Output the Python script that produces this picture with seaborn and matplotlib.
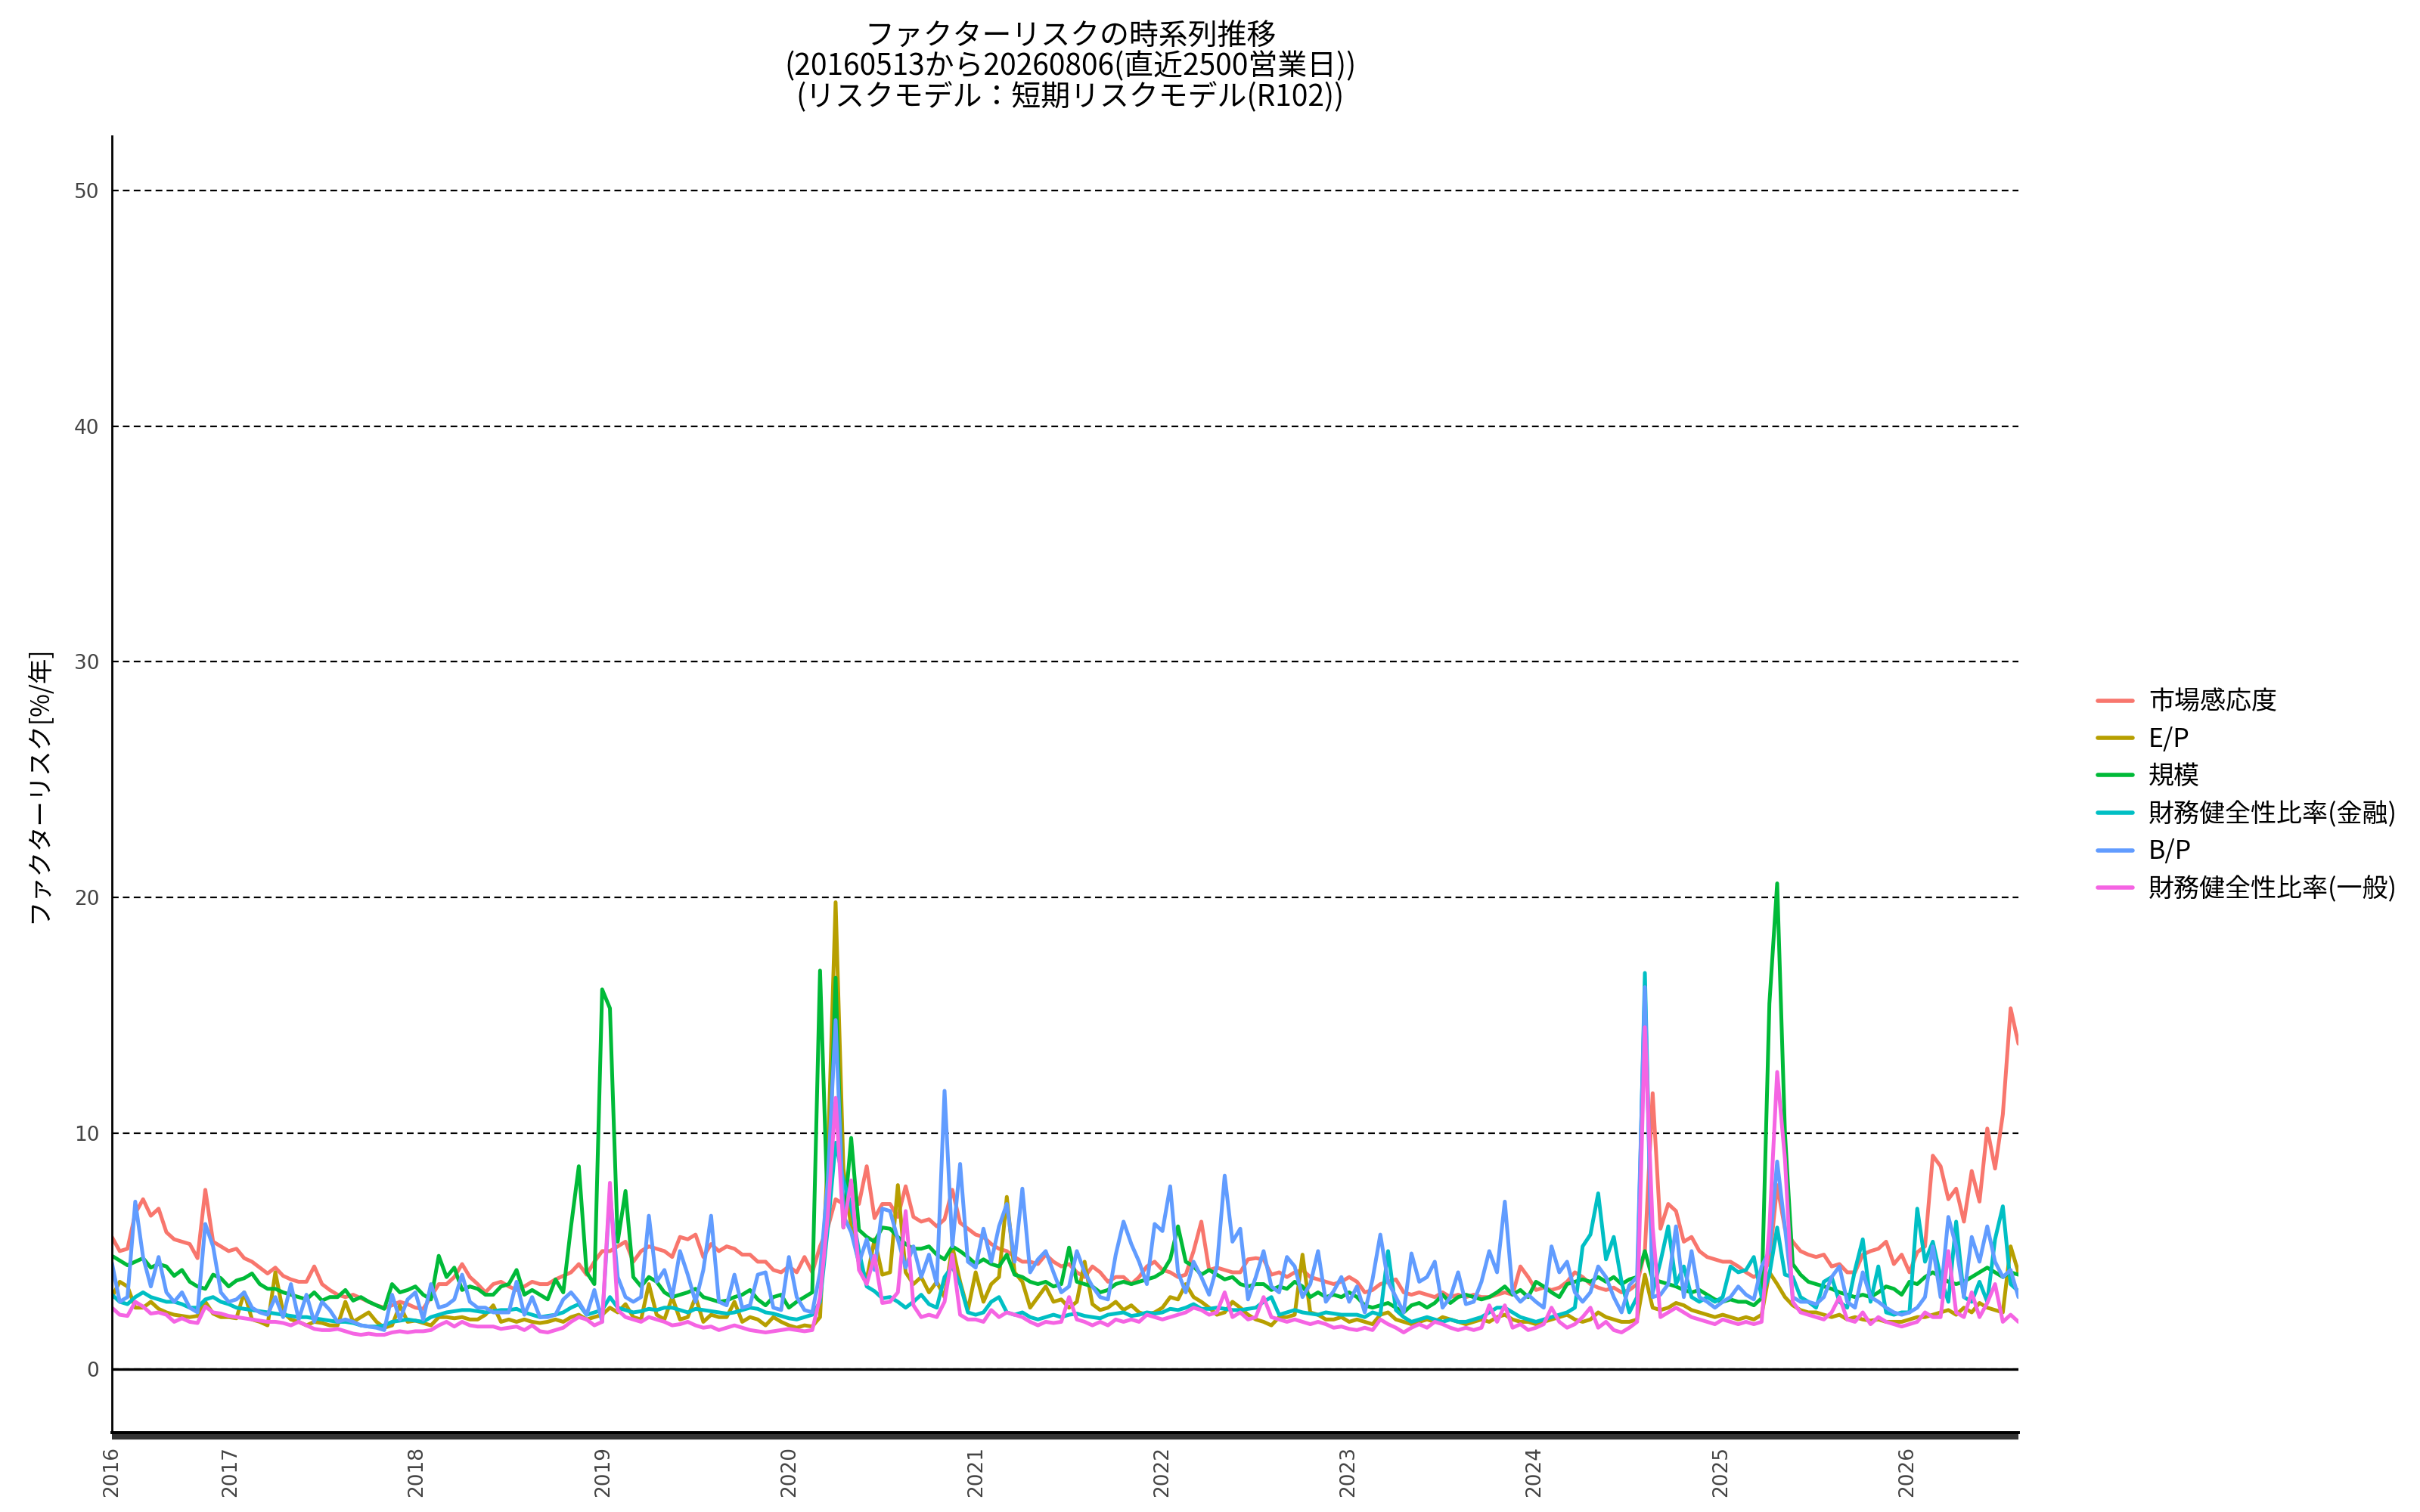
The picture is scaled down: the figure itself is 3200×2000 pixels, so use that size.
import numpy as np
import pandas as pd
import matplotlib
matplotlib.use("Agg")
import matplotlib.pyplot as plt
import matplotlib.dates as mdates
import seaborn as sns

# ---------------- data ----------------
start_date = "2016-05-13"
end_date = "2026-08-06"

factor_names = ["市場感応度", "E/P", "規模", "財務健全性比率(金融)", "B/P", "財務健全性比率(一般)"]
palette = ["#F8766D", "#B79F00", "#00BA38", "#00BFC4", "#619CFF", "#F564E3"]

year_tick_labels = ["2016", "2017", "2018", "2019", "2020", "2021",
                    "2022", "2023", "2024", "2025", "2026"]
y_ticks = [0, 10, 20, 30, 40, 50]

market = [
    5.6, 5.0, 5.1, 6.6, 7.2, 6.5, 6.8, 5.8, 5.5, 5.4,
    5.3, 4.7, 7.6, 5.4, 5.2, 5.0, 5.1, 4.7, 4.55, 4.3,
    4.05, 4.3, 3.95, 3.8, 3.7, 3.7, 4.35, 3.6, 3.35, 3.15,
    3.05, 3.15, 3.0, 2.85, 2.7, 2.6, 2.7, 2.85, 2.75, 2.6,
    2.55, 3.05, 3.6, 3.6, 3.9, 4.45, 3.9, 3.6, 3.25, 3.6,
    3.7, 3.5, 3.35, 3.5, 3.7, 3.6, 3.6, 3.8, 3.95, 4.1,
    4.45, 4.0, 4.55, 5.0, 5.0, 5.2, 5.4, 4.55, 5.0, 5.2,
    5.1, 5.0, 4.75, 5.6, 5.5, 5.7, 4.75, 5.3, 5.0, 5.2,
    5.1, 4.85, 4.85, 4.55, 4.55, 4.2, 4.1, 4.35, 4.1, 4.75,
    4.1, 5.2, 6.0, 7.2, 7.0, 7.8, 7.0, 8.6, 6.4, 7.0,
    7.0, 6.45, 7.75, 6.45, 6.25, 6.35, 6.05, 6.35, 7.6, 6.2,
    5.95, 5.7, 5.6, 5.3, 5.1, 5.0, 4.75, 4.55, 4.55, 4.45,
    4.85, 4.55, 4.35, 4.45, 4.1, 3.9, 4.35, 4.1, 3.7, 3.9,
    3.9, 3.6, 3.9, 4.35, 4.55, 4.2, 4.1, 3.9, 4.0, 5.0,
    6.25, 4.2, 4.3, 4.2, 4.1, 4.1, 4.65, 4.7, 4.65, 4.0,
    4.1, 3.9, 4.1, 4.2, 3.9, 3.8, 3.7, 3.6, 3.7, 3.9,
    3.7, 3.25, 3.35, 3.6, 3.7, 3.8, 3.25, 3.15, 3.25, 3.15,
    3.05, 3.25, 3.05, 3.15, 3.05, 3.15, 3.05, 3.05, 3.15, 3.25,
    3.15, 4.35, 3.9, 3.35, 3.45, 3.35, 3.45, 3.7, 4.1, 3.9,
    3.6, 3.45, 3.35, 3.45, 3.25, 3.35, 3.6, 5.0, 11.7, 5.95,
    7.0, 6.7, 5.4, 5.6, 5.0, 4.75, 4.65, 4.55, 4.55, 4.35,
    4.1, 3.9, 4.1, 4.5, 7.8, 5.95, 5.4, 5.0, 4.85, 4.75,
    4.85, 4.35, 4.45, 4.1, 4.1, 4.85, 5.0, 5.1, 5.4, 4.45,
    4.85, 4.1, 4.95, 5.2, 9.05, 8.6, 7.2, 7.65, 6.25, 8.4,
    7.1, 10.2, 8.5, 10.8, 15.3, 13.8,
]

ep = [
    3.05, 3.7, 3.5, 2.6, 2.6, 2.85, 2.55, 2.4, 2.3, 2.25,
    2.2, 2.25, 2.85, 2.35, 2.2, 2.2, 2.15, 3.25, 2.1, 2.0,
    1.85, 4.1, 2.4, 2.1, 2.0, 1.85, 2.0, 1.95, 1.85, 1.85,
    2.85, 2.0, 2.2, 2.4, 2.0, 1.75, 1.85, 2.7, 2.0, 2.05,
    1.95, 1.85, 2.2, 2.2, 2.15, 2.2, 2.1, 2.1, 2.3, 2.7,
    2.0, 2.1, 2.0, 2.1, 2.0, 1.95, 2.0, 2.1, 2.0, 2.2,
    2.3, 2.1, 2.2, 2.3, 2.6, 2.4, 2.75, 2.2, 2.1, 3.6,
    2.3, 2.1, 3.05, 2.1, 2.2, 3.05, 2.0, 2.3, 2.2, 2.2,
    2.85, 2.0, 2.2, 2.1, 1.85, 2.2, 2.0, 1.85, 1.75, 1.85,
    1.8, 2.2, 9.0, 19.8, 8.5, 6.0, 4.5, 3.8, 5.5, 4.0,
    4.1, 7.8, 4.1, 3.6, 3.9, 3.25, 3.7, 3.05, 5.2, 3.7,
    2.5, 4.1, 2.85, 3.6, 3.9, 7.3, 4.1, 3.7, 2.6, 3.05,
    3.5, 2.85, 2.95, 2.6, 2.85, 4.55, 2.75, 2.5, 2.6, 2.85,
    2.5, 2.7, 2.4, 2.3, 2.4, 2.6, 3.05, 2.95, 3.6, 3.05,
    2.85, 2.6, 2.3, 2.4, 2.85, 2.6, 2.3, 2.1, 2.0, 1.85,
    2.2, 2.2, 2.3, 4.85, 2.4, 2.3, 2.1, 2.1, 2.2, 2.0,
    2.1, 2.0, 1.9, 2.3, 2.4, 2.1, 2.0, 1.9, 2.0, 2.1,
    2.0, 2.2, 2.1, 2.0, 1.9, 2.0, 2.1, 2.0, 2.2, 2.3,
    2.1, 2.0, 2.0, 1.9, 2.0, 2.1, 2.2, 2.3, 2.1, 2.0,
    2.1, 2.4, 2.2, 2.1, 2.0, 2.0, 2.1, 4.0, 2.6, 2.5,
    2.6, 2.8, 2.7, 2.5, 2.4, 2.3, 2.2, 2.3, 2.2, 2.1,
    2.2, 2.1, 2.3, 4.1, 3.6, 3.05, 2.7, 2.5, 2.4, 2.4,
    2.3, 2.2, 2.3, 2.1, 2.2, 2.1, 2.05, 2.1, 2.0, 2.0,
    2.0, 2.1, 2.2, 2.2, 2.3, 2.4, 2.5, 2.3, 2.6, 2.4,
    2.8, 2.6, 2.5, 2.4, 5.2, 4.1,
]

size = [
    4.8, 4.6, 4.4, 4.55, 4.7, 4.3, 4.45, 4.35, 3.95, 4.2,
    3.7, 3.5, 3.4, 4.0, 3.85, 3.5, 3.75, 3.85, 4.05, 3.6,
    3.4, 3.4, 3.25, 3.15, 3.05, 2.95, 3.25, 2.9, 3.05, 3.05,
    3.35, 2.9, 3.05, 2.85, 2.7, 2.55, 3.6, 3.25, 3.35, 3.5,
    3.15, 2.95, 4.8, 3.9, 4.3, 3.35, 3.5, 3.4, 3.15, 3.15,
    3.5, 3.6, 4.2, 3.15, 3.35, 3.15, 2.95, 3.8, 3.25, 6.05,
    8.6, 4.1, 3.6, 16.1, 15.3, 5.4, 7.55, 3.9, 3.5, 3.9,
    3.7, 3.25, 3.05, 3.15, 3.25, 3.4, 3.05, 2.95, 2.85, 2.9,
    3.05, 3.15, 3.35, 2.95, 2.7, 3.05, 3.15, 2.6, 2.85, 3.05,
    3.25, 16.9, 6.5, 16.6, 6.0, 9.8, 5.9, 5.6, 5.4, 6.0,
    5.95, 5.6, 5.3, 5.1, 5.1, 5.2, 4.85, 4.65, 5.2, 5.0,
    4.75, 4.45, 4.65, 4.45, 4.35, 4.85, 4.0, 3.9, 3.7, 3.6,
    3.7, 3.5, 3.6, 5.15, 3.7, 3.6, 3.5, 3.25, 3.35, 3.6,
    3.7, 3.6, 3.7, 3.8, 3.9, 4.1, 4.65, 6.05, 4.55, 4.35,
    4.0, 4.2, 4.0, 3.8, 3.9, 3.6, 3.5, 3.6, 3.6, 3.35,
    3.5, 3.4, 3.7, 3.5, 3.05, 3.25, 3.05, 3.15, 3.05, 3.25,
    3.05, 2.7, 2.6, 2.7, 2.8, 2.6, 2.4, 2.7, 2.8, 2.6,
    2.8, 3.15, 2.8, 3.05, 3.15, 3.05, 2.95, 3.05, 3.25, 3.5,
    3.15, 3.35, 3.05, 3.7, 3.5, 3.25, 3.05, 3.6, 3.7, 3.8,
    3.7, 3.9, 3.7, 3.9, 3.6, 3.8, 3.9, 5.0, 3.8, 3.7,
    3.6, 3.5, 3.35, 3.25, 3.35, 3.15, 2.95, 2.85, 2.95, 2.85,
    2.85, 2.7, 3.0, 15.5, 20.6, 10.0, 4.45, 4.0, 3.7, 3.6,
    3.5, 3.4, 3.25, 3.15, 3.05, 3.15, 3.05, 3.25, 3.5, 3.4,
    3.15, 3.7, 3.6, 3.9, 4.1, 3.9, 3.7, 3.6, 3.7, 3.9,
    4.1, 4.3, 4.1, 3.9, 4.1, 4.0,
]

fin_financial = [
    3.15, 2.85, 2.75, 3.05, 3.25, 3.05, 2.95, 2.85, 2.85, 2.75,
    2.6, 2.6, 2.95, 3.05, 2.85, 2.75, 2.6, 2.55, 2.5, 2.45,
    2.4, 2.35, 2.3, 2.25, 2.2, 2.2, 2.15, 2.1, 2.05, 2.0,
    2.0, 1.95, 1.85, 1.8, 1.8, 1.85, 2.0, 2.05, 2.1, 2.05,
    2.0, 2.2, 2.3, 2.4, 2.45, 2.5, 2.5, 2.45, 2.4, 2.45,
    2.5, 2.5, 2.55, 2.4, 2.3, 2.2, 2.25, 2.3, 2.4, 2.6,
    2.75, 2.3, 2.4, 2.5, 3.05, 2.6, 2.5, 2.4, 2.45, 2.55,
    2.5, 2.6, 2.6, 2.5, 2.4, 2.55, 2.5, 2.45, 2.4, 2.35,
    2.4, 2.5, 2.6, 2.55, 2.4, 2.35, 2.25, 2.15, 2.1, 2.2,
    2.3, 2.85, 6.0, 9.6, 8.0, 6.9, 5.0, 3.5, 3.3, 3.0,
    3.05, 2.85, 2.6, 2.85, 3.15, 2.75, 2.6, 3.9, 4.35, 3.6,
    2.4, 2.3, 2.4, 2.85, 3.05, 2.4, 2.3, 2.4, 2.2, 2.1,
    2.2, 2.3, 2.2, 2.3, 2.35, 2.25, 2.2, 2.15, 2.3, 2.35,
    2.4, 2.25, 2.3, 2.4, 2.35, 2.4, 2.55, 2.5, 2.6, 2.75,
    2.55, 2.55, 2.6, 2.55, 2.5, 2.5, 2.55, 2.6, 2.85, 3.05,
    2.3, 2.4, 2.5, 2.4, 2.35, 2.3, 2.4, 2.35, 2.3, 2.3,
    2.3, 2.2, 2.4, 2.3, 5.0, 2.5, 2.2, 2.0, 2.1, 2.2,
    2.1, 2.0, 2.1, 2.0, 2.0, 2.1, 2.2, 2.4, 2.6, 2.6,
    2.4, 2.2, 2.1, 2.0, 2.1, 2.2, 2.3, 2.4, 2.6, 5.2,
    5.7, 7.45, 4.65, 5.6, 3.7, 2.4, 3.05, 16.8, 3.25, 4.55,
    6.05, 3.6, 4.35, 3.05, 2.85, 3.05, 2.85, 3.05, 4.35, 4.1,
    4.2, 4.75, 3.05, 4.0, 6.0, 4.0, 3.9, 3.05, 2.85, 2.6,
    3.7, 3.9, 2.85, 2.6, 4.2, 5.5, 2.85, 4.35, 2.4, 2.3,
    2.4, 2.4, 6.8, 4.55, 5.4, 3.9, 2.85, 6.25, 3.05, 2.85,
    3.7, 2.85, 5.5, 6.9, 3.6, 3.3,
]

bp = [
    4.5, 2.85, 3.05, 7.1, 4.75, 3.5, 4.75, 3.25, 2.85, 3.25,
    2.6, 2.4, 6.15, 5.2, 3.25, 2.85, 2.95, 3.25, 2.6, 2.4,
    2.3, 3.05, 2.2, 3.6, 2.1, 3.15, 2.0, 2.85, 2.5, 2.0,
    2.1, 2.0, 1.85, 1.8, 1.75, 1.65, 3.15, 2.1, 2.95, 3.25,
    2.1, 3.6, 2.6, 2.7, 2.95, 4.0, 2.85, 2.6, 2.6, 2.4,
    2.4, 2.4, 3.7, 2.3, 3.05, 2.2, 2.2, 2.3, 2.95, 3.25,
    2.85, 2.3, 3.35, 2.0, 7.5, 3.9, 3.05, 2.85, 3.05, 6.5,
    3.7, 4.2, 3.05, 5.0, 4.0, 2.85, 4.2, 6.5, 2.85, 2.7,
    4.0, 2.6, 2.7, 4.0, 4.1, 2.6, 2.5, 4.75, 3.05, 2.5,
    2.4, 4.1, 8.0, 14.8, 6.5, 5.8, 4.5, 5.5, 4.2, 6.8,
    6.7, 5.5, 4.3, 5.2, 3.9, 4.85, 3.6, 11.8, 5.2, 8.7,
    4.55, 4.3, 5.95, 4.55, 6.05, 7.0, 4.55, 7.65, 4.1, 4.65,
    5.0, 4.1, 3.25, 3.5, 5.0, 4.1, 3.5, 3.05, 2.95, 4.85,
    6.25, 5.3, 4.55, 3.6, 6.15, 5.85, 7.75, 4.1, 3.25, 4.55,
    3.9, 3.15, 4.35, 8.2, 5.4, 5.95, 2.95, 3.9, 5.0, 3.5,
    3.25, 4.75, 4.35, 3.05, 3.6, 5.0, 2.85, 3.3, 3.9, 2.85,
    3.5, 2.4, 3.8, 5.7, 3.7, 3.05, 2.4, 4.9, 3.7, 3.9,
    4.55, 2.6, 3.05, 4.1, 2.75, 2.85, 3.7, 5.0, 4.1, 7.1,
    3.25, 2.85, 3.15, 2.85, 2.6, 5.2, 4.1, 4.55, 3.25, 2.85,
    3.25, 4.35, 3.9, 3.05, 2.4, 3.55, 3.9, 16.2, 3.05, 3.15,
    3.6, 6.05, 3.05, 5.0, 3.05, 2.85, 2.6, 2.85, 3.05, 3.5,
    3.15, 2.95, 4.35, 5.0, 8.8, 6.0, 3.05, 2.85, 2.85, 2.75,
    3.05, 3.9, 4.35, 2.85, 2.6, 4.1, 3.05, 2.85, 2.6, 2.4,
    2.3, 2.4, 2.6, 3.05, 5.2, 3.05, 6.45, 5.2, 3.05, 5.6,
    4.55, 6.05, 4.55, 3.9, 4.2, 3.05,
]

fin_general = [
    2.6, 2.3, 2.25, 2.85, 2.65, 2.35, 2.4, 2.3, 2.0, 2.15,
    2.0, 1.95, 2.65, 2.4, 2.35, 2.25, 2.2, 2.15, 2.1, 2.05,
    2.0, 2.0, 1.95, 1.85, 2.0, 1.85, 1.7, 1.65, 1.65, 1.7,
    1.6, 1.5, 1.45, 1.5, 1.45, 1.45, 1.55, 1.6, 1.55, 1.6,
    1.6, 1.65, 1.85, 2.0, 1.8, 2.0, 1.85, 1.8, 1.8, 1.8,
    1.7, 1.75, 1.8, 1.65, 1.85, 1.6, 1.55, 1.65, 1.75, 2.0,
    2.2, 2.1, 1.85, 2.0, 7.9, 2.5, 2.2, 2.1, 2.0, 2.2,
    2.1, 2.0, 1.85, 1.9, 2.0, 1.85, 1.75, 1.8, 1.65, 1.75,
    1.85, 1.75, 1.65, 1.6, 1.55, 1.6, 1.65, 1.7, 1.65, 1.6,
    1.65, 3.05, 6.5, 11.5, 6.0, 8.0, 4.2, 3.6, 4.8, 2.8,
    2.85, 3.25, 6.7, 2.7, 2.2, 2.3, 2.2, 2.85, 4.85, 2.3,
    2.1, 2.1, 2.0, 2.5, 2.2, 2.4, 2.3, 2.2, 2.0, 1.85,
    2.0, 1.95, 2.0, 3.05, 2.1, 2.0, 1.85, 2.0, 1.85, 2.1,
    2.0, 2.1, 2.0, 2.3, 2.2, 2.1, 2.2, 2.3, 2.4, 2.6,
    2.5, 2.3, 2.4, 3.25, 2.2, 2.4, 2.1, 2.2, 3.05, 2.2,
    2.1, 2.0, 2.1, 2.0, 1.9, 2.0, 1.9, 1.75, 1.8, 1.7,
    1.65, 1.75, 1.65, 2.1, 1.9, 1.75, 1.55, 1.75, 1.9, 1.75,
    2.0, 1.9, 1.75, 1.65, 1.75, 1.65, 1.75, 2.7, 2.0, 2.7,
    1.75, 1.9, 1.65, 1.75, 1.9, 2.6, 2.0, 1.75, 1.9, 2.2,
    2.6, 1.75, 2.0, 1.65, 1.55, 1.75, 2.0, 14.5, 6.0, 2.2,
    2.4, 2.6, 2.4, 2.2, 2.1, 2.0, 1.9, 2.1, 2.0, 1.9,
    2.0, 1.9, 2.0, 6.0, 12.6, 8.9, 2.85, 2.4, 2.3, 2.2,
    2.1, 2.4, 3.05, 2.1, 2.0, 2.4, 1.9, 2.2, 2.0, 1.9,
    1.8, 1.9, 2.0, 2.4, 2.2, 2.2, 5.0, 2.4, 2.2, 3.25,
    2.2, 2.8, 3.6, 2.0, 2.3, 2.0,
]

series_values = [market, ep, size, fin_financial, bp, fin_general]

frames = []
for name, vals in zip(factor_names, series_values):
    dates = pd.date_range(start_date, end_date, periods=len(vals))
    frames.append(pd.DataFrame({"date": dates, "risk": vals, "factor": name}))
df = pd.concat(frames, ignore_index=True)

# ---------------- style ----------------
sns.set_theme(style="white")
plt.rcParams["font.family"] = ["Noto Sans CJK JP", "DejaVu Sans"]
plt.rcParams["axes.unicode_minus"] = False

fig = plt.figure(figsize=(32, 20), dpi=100)
ax = fig.add_axes([0.04625, 0.0525, 0.7878, 0.8575])

sns.lineplot(data=df, x="date", y="risk", hue="factor", hue_order=factor_names,
             palette=palette, linewidth=3.6, estimator=None, ax=ax, legend=True)

# axes limits
x0 = pd.Timestamp(start_date)
x1 = pd.Timestamp(end_date)
ax.set_xlim(mdates.date2num(x0), mdates.date2num(x1))
ax.set_ylim(-2.7, 52.3)

# grid
ax.set_yticks(y_ticks)
ax.yaxis.grid(True, color="black", linestyle=(0, (4, 2.5)), linewidth=1.6)
ax.xaxis.grid(False)
ax.set_axisbelow(True)
ax.axhline(y_ticks[0], color="black", linewidth=2.4, zorder=1)

# x ticks: data start labelled with its year, then each new year
tick_dates = [x0] + [pd.Timestamp(f"{y}-01-01") for y in year_tick_labels[1:]]
ax.set_xticks([mdates.date2num(d) for d in tick_dates])
ax.set_xticklabels(year_tick_labels, rotation=90, fontsize=19, color="#444444",
                   fontfamily="DejaVu Sans")
ax.tick_params(axis="x", length=0, pad=13)

ax.set_yticklabels([str(v) for v in y_ticks], fontsize=19, color="#444444",
                   fontfamily="DejaVu Sans")
ax.tick_params(axis="y", length=6, width=2, color="black", direction="out", pad=6)

ax.set_xlabel("")
ax.set_ylabel("")

for s in ["top", "right"]:
    ax.spines[s].set_visible(False)
ax.spines["left"].set_color("black")
ax.spines["left"].set_linewidth(2)
ax.spines["bottom"].set_color("black")
ax.spines["bottom"].set_linewidth(2.8)

# dark band below the x axis line
ax.plot([0, 1], [-0.0032, -0.0032], transform=ax.transAxes, color="#333333",
        linewidth=6, clip_on=False, solid_capstyle="butt")

# y label
fig.text(0.016, 0.481, "ファクターリスク[%/年]", rotation=90, ha="center",
         va="center", fontsize=24, color="black")

# title
fig.text(0.4423, 0.986,
         "ファクターリスクの時系列推移\n(20160513から20260806(直近2500営業日))\n(リスクモデル：短期リスクモデル(R102))",
         ha="center", va="top", fontsize=28, linespacing=1.0, color="black")

# legend
handles, labels = ax.get_legend_handles_labels()
if ax.get_legend() is not None:
    ax.get_legend().remove()
leg = fig.legend(handles, labels, loc="center left", bbox_to_anchor=(0.867, 0.4735),
                 frameon=False, fontsize=24.5, handlelength=1.35, handletextpad=0.6,
                 labelspacing=0.42, borderpad=0, borderaxespad=0)
for line in leg.get_lines():
    line.set_linewidth(4)
for t in leg.get_texts():
    t.set_color("black")

fig.savefig("out.png", dpi=100)
